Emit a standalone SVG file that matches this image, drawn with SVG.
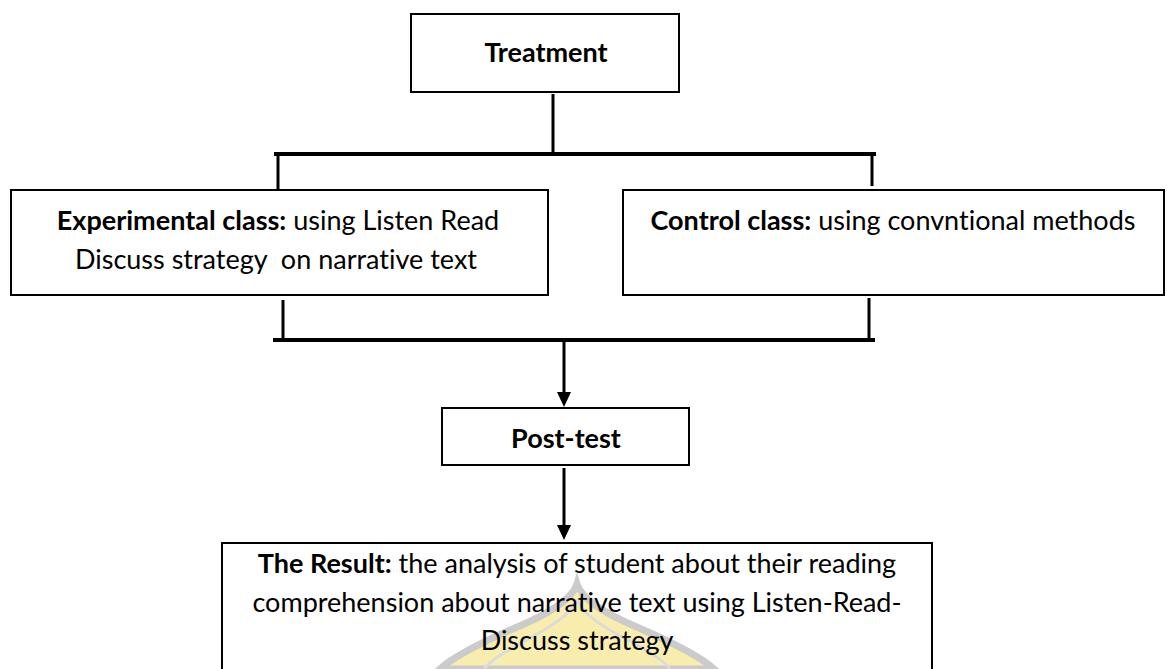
<svg xmlns="http://www.w3.org/2000/svg" width="1167" height="669" viewBox="0 0 1167 669">
<style>
.box{fill:#fff;stroke:#000;stroke-width:2}
.t{font-family:Lato,"Open Sans","Liberation Sans",sans-serif;font-size:27px;fill:#000;text-anchor:middle;white-space:pre;font-variant-ligatures:none;font-feature-settings:"liga" 0,"clig" 0}
.b{font-weight:bold}
.c{stroke:#000;fill:none;stroke-width:3}
.h{stroke-width:4}
.ah{fill:#000}
</style>
<rect width="1167" height="669" fill="#fff"/>
<g id="treatment">
<rect class="box" x="411" y="14" width="268" height="78"/>
<text class="t b" x="546" y="62">Treatment</text>
</g>
<g id="experimental">
<rect class="box" x="11" y="190" width="537" height="105"/>
<text class="t" x="278" y="230"><tspan class="b">Experimental class:</tspan> using Listen Read</text>
<text class="t" x="276" y="269">Discuss strategy  on narrative text</text>
</g>
<g id="control">
<rect class="box" x="623" y="190" width="541" height="105"/>
<text class="t" x="893" y="230"><tspan class="b">Control class:</tspan> using convntional methods</text>
</g>
<g id="posttest">
<rect class="box" x="442" y="408" width="247" height="57"/>
<text class="t b" x="566" y="448">Post-test</text>
</g>
<g id="result">
<rect class="box" x="222" y="543" width="710" height="140"/>
<g id="watermark" opacity="0.6">
<path d="M577,584 C572,600 548,614 515,628 C478,644 452,658 440,669 L714,669 C702,658 676,644 639,628 C606,614 582,600 577,584 Z" fill="#f6e27a" stroke="#a9a9a9" stroke-width="7"/>
<path d="M577,600 C570,615 552,626 530,638 C505,651 490,661 484,669 M577,600 C584,615 602,626 624,638 C649,651 664,661 670,669" fill="none" stroke="#c4c4c4" stroke-width="3"/>
</g>
<text class="t" x="577" y="573"><tspan class="b">The Result:</tspan> the analysis of student about their reading</text>
<text class="t" x="577" y="612">comprehension about narrative text using Listen-Read-</text>
<text class="t" x="577" y="650">Discuss strategy</text>
</g>
<g id="connectors">
<line class="c" x1="553" y1="94" x2="553" y2="154"/>
<line class="c h" x1="274" y1="154" x2="876" y2="154"/>
<line class="c" x1="278" y1="156" x2="278" y2="189"/>
<line class="c" x1="872" y1="156" x2="872" y2="186"/>
<line class="c" x1="283" y1="300" x2="283" y2="340"/>
<line class="c" x1="869" y1="298" x2="869" y2="340"/>
<line class="c h" x1="273" y1="340" x2="875" y2="340"/>
<line class="c" x1="564" y1="338" x2="564" y2="395"/>
<path class="ah" d="M557,392 L571,392 L564,407 Z"/>
<line class="c" x1="564" y1="468" x2="564" y2="528"/>
<path class="ah" d="M557,525 L571,525 L564,540 Z"/>
</g>
</svg>
